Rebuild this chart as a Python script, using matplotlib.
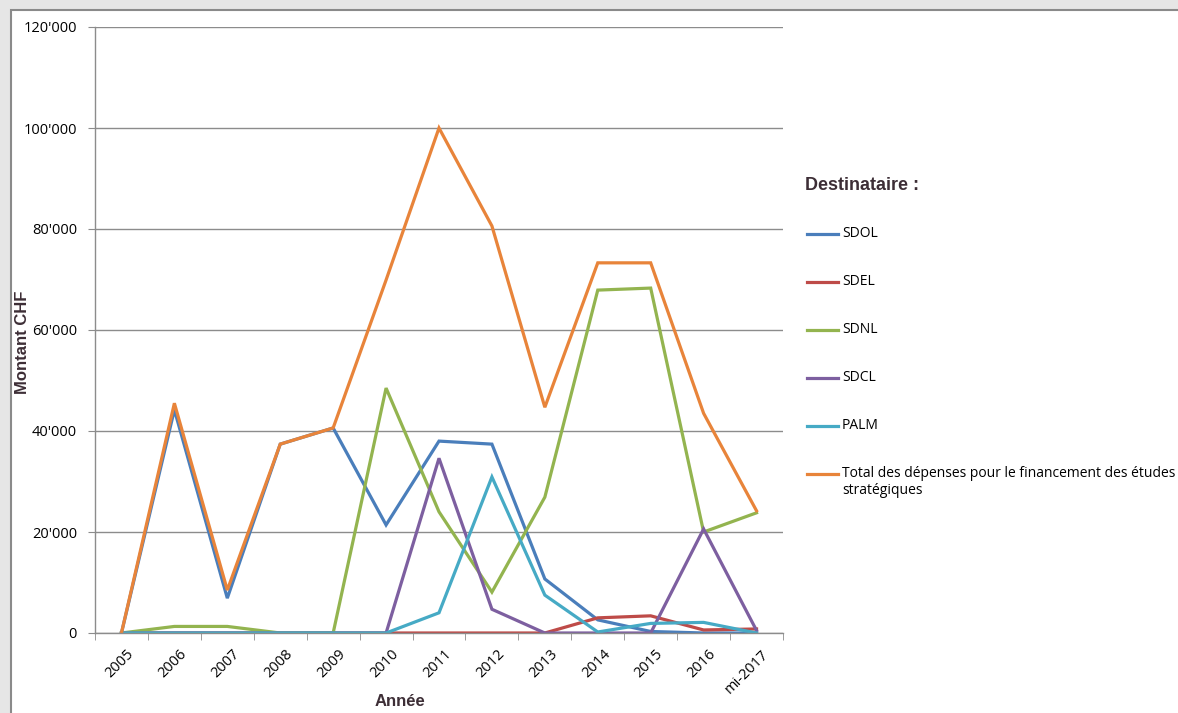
import matplotlib.pyplot as plt
from matplotlib.lines import Line2D
from matplotlib.patches import Rectangle
from matplotlib.ticker import FixedLocator, FuncFormatter
from matplotlib.transforms import ScaledTranslation

years = ["2005", "2006", "2007", "2008", "2009", "2010", "2011",
         "2012", "2013", "2014", "2015", "2016", "mi-2017"]

sdol = [0, 44200, 6900, 37400, 40600, 21400, 38000, 37400, 10700, 2600, 300, 0, 0]
sdel = [0, 0, 0, 0, 0, 0, 0, 0, 0, 3000, 3400, 600, 800]
sdnl = [0, 1300, 1300, 0, 0, 48500, 24000, 8100, 26900, 67900, 68300, 20000, 23800]
sdcl = [0, 0, 0, 0, 0, 0, 34600, 4700, 0, 0, 0, 20600, 500]
palm = [0, 0, 0, 0, 0, 0, 4000, 30900, 7500, 200, 1900, 2100, 0]
total = [0, 45500, 8500, 37400, 40600, 69900, 100000, 80600, 44700, 73300, 73300, 43500, 24200]

series = [
    ("SDOL", sdol, "#4A7EBB"),
    ("SDEL", sdel, "#BE4B48"),
    ("SDNL", sdnl, "#93B44F"),
    ("SDCL", sdcl, "#7D5FA0"),
    ("PALM", palm, "#46AAC5"),
    ("Total des dépenses pour le financement des études\nstratégiques", total, "#E8843A"),
]

W, H = 1178, 713
fig = plt.figure(figsize=(W / 100, H / 100), dpi=100)
fig.patch.set_facecolor("#E6E6E6")

# white chart frame behind the axes
fig.add_artist(Rectangle((11 / W, -0.05), 1.1, (H - 10) / H + 0.05,
                         transform=fig.transFigure, facecolor="white",
                         edgecolor="#8A8A8A", linewidth=1.5, zorder=-5))

ax = fig.add_axes([95 / W, (H - 633) / H, 688 / W, 606 / H])
ax.set_facecolor("none")

x = list(range(len(years)))
for name, vals, col in series:
    ax.plot(x, vals, color=col, linewidth=2.3, solid_joinstyle="miter")

ax.set_xlim(-0.5, len(years) - 0.5)
ax.set_ylim(0, 120000)

grid_col = "#8C8C8C"
ax.yaxis.set_major_locator(FixedLocator(range(0, 120001, 20000)))
ax.yaxis.set_major_formatter(FuncFormatter(lambda v, p: "0" if v == 0 else f"{int(v):,}".replace(",", "'")))
ax.grid(axis="y", color=grid_col, linewidth=1)
ax.set_axisbelow(True)

ax.set_xticks(x)
ax.set_xticklabels(years, rotation=45, ha="right", va="top", rotation_mode="anchor")
ax.set_xticks([i - 0.5 for i in range(len(years) + 1)], minor=True)
ax.tick_params(axis="x", which="major", length=0, pad=10)
ax.tick_params(axis="x", which="minor", length=5, color=grid_col)
ax.tick_params(axis="y", length=5, color=grid_col, pad=8)
for lab in ax.get_xticklabels() + ax.get_yticklabels():
    lab.set_fontfamily("Open Sans")
    lab.set_fontsize(10.5)
    lab.set_color("black")
# nudge the rotated year labels a little to the right
shift = ScaledTranslation(5 / 100, 0, fig.dpi_scale_trans)
for lab in ax.get_xticklabels():
    lab.set_transform(lab.get_transform() + shift)

for s in ["top", "right"]:
    ax.spines[s].set_visible(False)
for s in ["left", "bottom"]:
    ax.spines[s].set_color(grid_col)
    ax.spines[s].set_linewidth(1)

title_col = "#3D2E36"
fig.text(23 / W, 1 - 342 / H, "Montant CHF", rotation=90, ha="center", va="center",
         fontfamily="Liberation Sans", fontweight="bold", fontsize=12, color=title_col)
fig.text(400 / W, 1 - 701 / H, "Année", ha="center", va="center",
         fontfamily="Liberation Sans", fontweight="bold", fontsize=12, color=title_col)

# legend drawn by hand
fig.text(805 / W, 1 - 185 / H, "Destinataire :", ha="left", va="center",
         fontfamily="Liberation Sans", fontweight="bold", fontsize=13, color=title_col)
y0 = 234
for i, (name, vals, col) in enumerate(series):
    yy = 1 - (y0 + 48 * i) / H
    fig.add_artist(Line2D([807 / W, 838 / W], [yy, yy], transform=fig.transFigure,
                          color=col, linewidth=2.3))
    fig.text(842 / W, yy + 8 / H, name, ha="left", va="top", fontfamily="Open Sans",
             fontsize=10, color="black", linespacing=1.2)

fig.savefig("out.png", dpi=100, facecolor=fig.get_facecolor())
